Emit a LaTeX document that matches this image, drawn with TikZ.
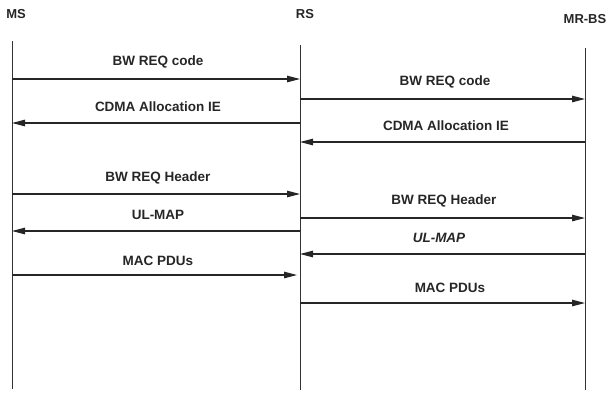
\documentclass[tikz,border=0pt]{standalone}
\usepackage{fontspec}
\setmainfont{Liberation Sans}
\usetikzlibrary{arrows.meta}
\begin{document}
\begin{tikzpicture}[x=1pt,y=-1pt,
  lbl/.style={font=\bfseries\fontsize{13.5}{15}\selectfont, inner sep=0pt, text=black!85},
  head/.style={font=\bfseries\fontsize{13}{15}\selectfont, inner sep=0pt, text=black!85},
  life/.style={line width=1pt, black!80},
  msg/.style={line width=1.1pt, black!85, -{Triangle[length=13pt,width=6.5pt]}}]
\useasboundingbox (0,0) rectangle (610,392);
% heads
\node[head] (ms) at (16,14) {MS};
\node[head] (rs) at (305,14) {RS};
\node[head] (bs) at (585,19) {MR-BS};
% lifelines
\coordinate (msT) at (12,41);  \coordinate (msB) at (12,389);
\coordinate (rsT) at (300,45); \coordinate (rsB) at (300,390);
\coordinate (bsT) at (585,48); \coordinate (bsB) at (585,390);
\draw[life] (msT) -- (msB);
\draw[life] (rsT) -- (rsB);
\draw[life] (bsT) -- (bsB);
% message end points
\coordinate (a1) at (12,79);  \coordinate (b1) at (300,79);
\coordinate (a2) at (300,99); \coordinate (b2) at (585,99);
\coordinate (a3) at (300,123);\coordinate (b3) at (12,123);
\coordinate (a4) at (585,142);\coordinate (b4) at (300,142);
\coordinate (a5) at (12,194); \coordinate (b5) at (300,194);
\coordinate (a6) at (300,218);\coordinate (b6) at (585,218);
\coordinate (a7) at (300,231);\coordinate (b7) at (12,231);
\coordinate (a8) at (585,254);\coordinate (b8) at (300,254);
\coordinate (a9) at (12,275); \coordinate (b9) at (297,275);
\coordinate (a10) at (300,303);\coordinate (b10) at (585,303);
% messages
\draw[msg] (a1) -- (b1);
\draw[msg] (a2) -- (b2);
\draw[msg] (a3) -- (b3);
\draw[msg] (a4) -- (b4);
\draw[msg] (a5) -- (b5);
\draw[msg] (a6) -- (b6);
\draw[msg] (a7) -- (b7);
\draw[msg] (a8) -- (b8);
\draw[msg] (a9) -- (b9);
\draw[msg] (a10) -- (b10);
% labels
\node[lbl] (l1) at (158,62) {BW REQ code};
\node[lbl] (l2) at (445,82) {BW REQ code};
\node[lbl] (l3) at (158,107) {CDMA Allocation IE};
\node[lbl] (l4) at (446,126) {CDMA Allocation IE};
\node[lbl] (l5) at (158,178) {BW REQ Header};
\node[lbl] (l6) at (444,201) {BW REQ Header};
\node[lbl] (l7) at (158,215) {UL-MAP};
\node[lbl,font=\bfseries\itshape\fontsize{13.5}{15}\selectfont] (l8) at (439,238) {UL-MAP};
\node[lbl] (l9) at (158,261) {MAC PDUs};
\node[lbl] (l10) at (450,288) {MAC PDUs};
\end{tikzpicture}
\end{document}
